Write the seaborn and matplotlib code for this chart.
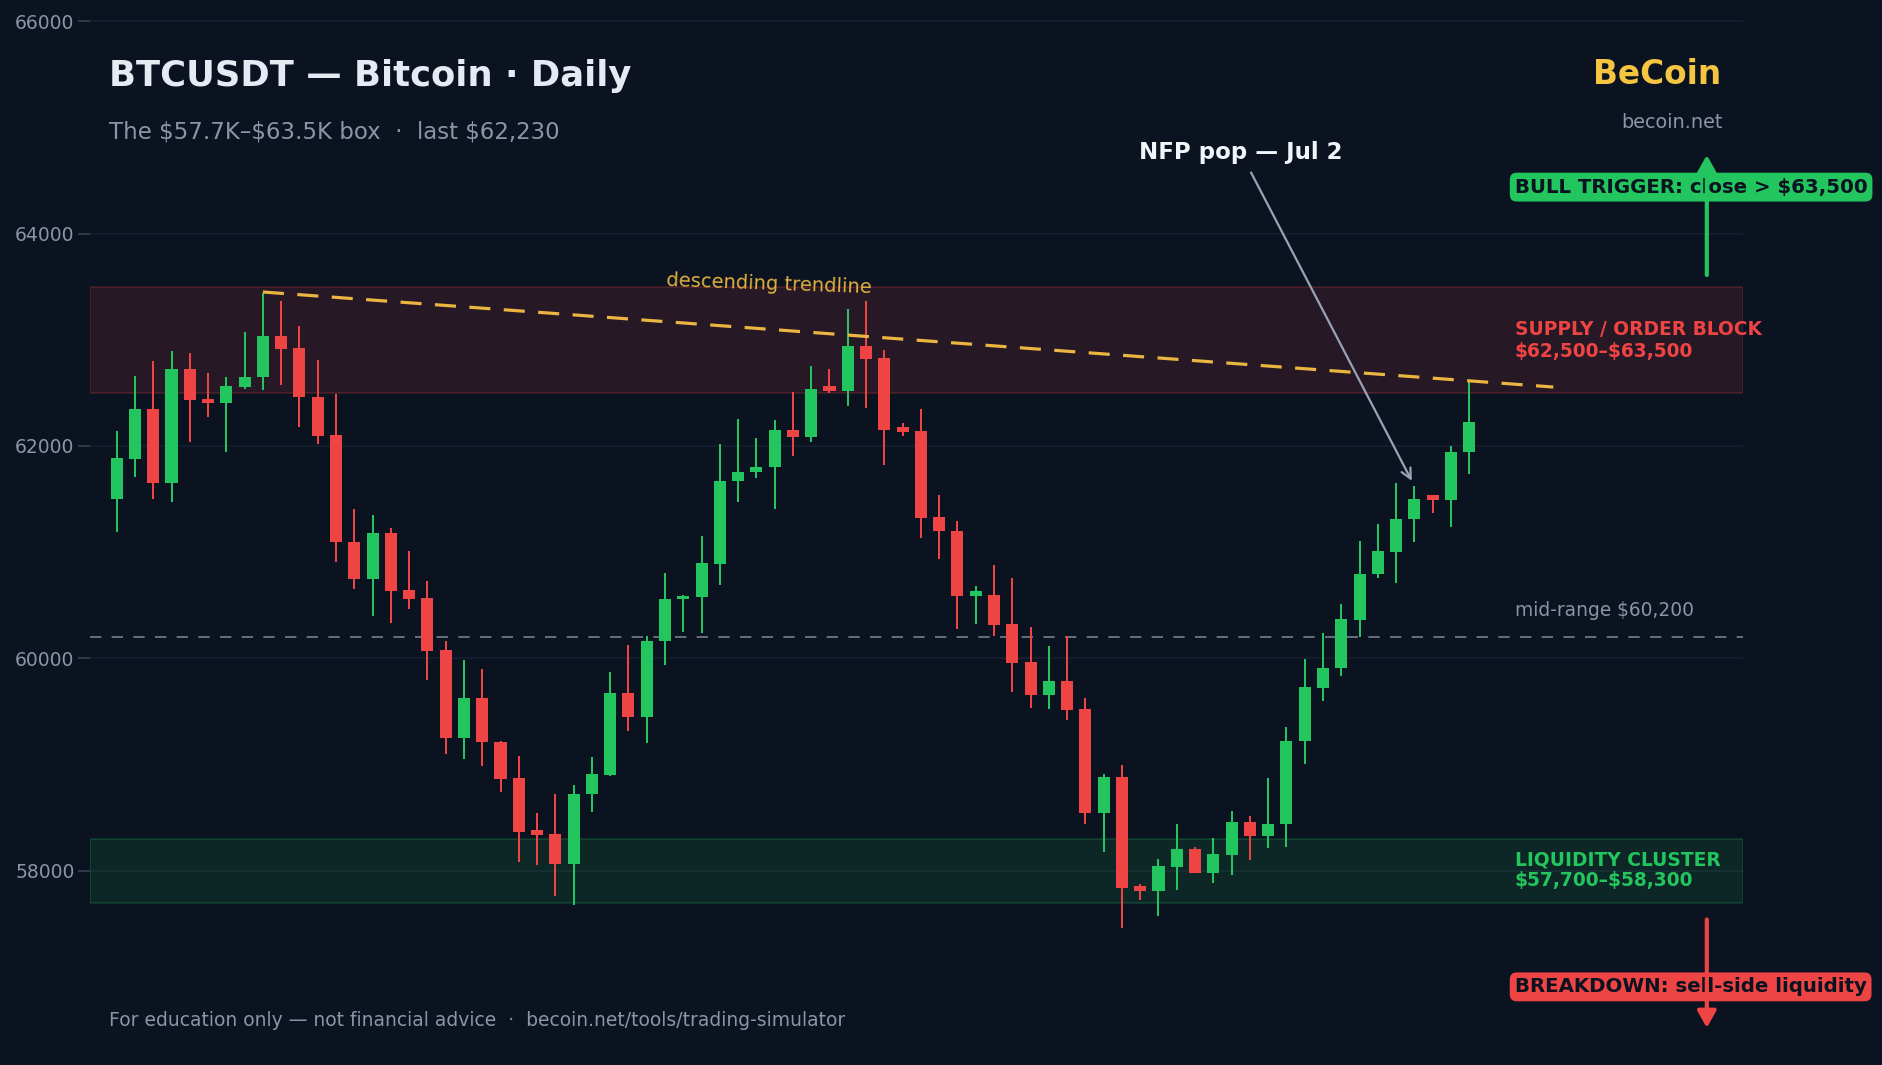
import numpy as np
import pandas as pd
import matplotlib
matplotlib.use("Agg")
import matplotlib.pyplot as plt
import seaborn as sns

# ---------------- data ----------------
opens = [61500, 61880, 62350, 61655, 62725, 62445, 62400, 62560, 62645, 63035,
         62920, 62465, 62100, 61100, 60750, 61180, 60640, 60565, 60075, 59250,
         59625, 59215, 58870, 58385, 58345, 58065, 58720, 58905, 59675, 59450,
         60160, 60555, 60580, 60890, 61670, 61755, 61800, 62150, 62080, 62565,
         62520, 62940, 62825, 62180, 62140, 61330, 61195, 60590, 60595, 60320,
         59965, 59650, 59785, 59520, 58545, 58880, 57855, 57810, 58035, 58205,
         57980, 58150, 58460, 58330, 58435, 59220, 59725, 59905, 60365, 60790,
         61005, 61310, 61535, 61495, 61945]
highs = [62140, 62660, 62800, 62895, 62875, 62690, 62650, 63075, 63440, 63365,
         63130, 62810, 62490, 61405, 61350, 61230, 61010, 60730, 60165, 59985,
         59900, 59220, 59080, 58545, 58720, 58805, 59070, 59870, 60125, 60210,
         60805, 60595, 61150, 62020, 62255, 62075, 62245, 62510, 62755, 62725,
         63290, 63365, 62905, 62215, 62350, 61540, 61295, 60680, 60880, 60755,
         60295, 60115, 60210, 59625, 58910, 58995, 57875, 58110, 58440, 58225,
         58305, 58560, 58515, 58875, 59355, 59995, 60240, 60510, 61105, 61265,
         61650, 61625, 61540, 62000, 62615]
lows = [61190, 61710, 61500, 61475, 62040, 62275, 61945, 62540, 62530, 62570,
        62175, 62020, 60910, 60655, 60400, 60335, 60465, 59795, 59100, 59050,
        58990, 58745, 58085, 58055, 57760, 57675, 58550, 58890, 59320, 59205,
        59940, 60250, 60240, 60695, 61475, 61700, 61410, 61905, 62040, 62495,
        62380, 62360, 61825, 62095, 61135, 60940, 60280, 60325, 60210, 59685,
        59535, 59525, 59420, 58440, 58175, 57460, 57725, 57575, 57820, 57980,
        57885, 57960, 58100, 58215, 58225, 59005, 59600, 59835, 60205, 60760,
        60705, 61100, 61370, 61240, 61740]
closes = [61885, 62350, 61655, 62725, 62430, 62400, 62565, 62650, 63035, 62915,
          62465, 62095, 61100, 60750, 61180, 60635, 60560, 60070, 59250, 59625,
          59215, 58865, 58360, 58340, 58065, 58720, 58910, 59675, 59450, 60165,
          60560, 60590, 60900, 61670, 61755, 61800, 62150, 62080, 62535, 62520,
          62940, 62820, 62155, 62135, 61325, 61195, 60590, 60635, 60315, 59960,
          59650, 59785, 59515, 58545, 58880, 57840, 57810, 58045, 58205, 57980,
          58155, 58460, 58330, 58440, 59220, 59730, 59910, 60370, 60795, 61010,
          61310, 61500, 61495, 61945, 62230]

supply_zone = [62500, 63500]
liquidity_zone = [57700, 58300]
mid_range = 60200
trend_x = [8, 78.6]
trend_y = [63450, 62555]
y_ticks = [58000, 60000, 62000, 64000, 66000]
nfp_index = 71
nfp_price = 61625

# ---------------- style ----------------
BG = "#0b1220"
GREEN = "#22c55e"
RED = "#ef4444"
GOLD = "#f5c542"
MUTED = "#8b95a7"
TITLE = "#e6ebf3"

sns.set_theme(style="dark", rc={
    "axes.facecolor": BG,
    "figure.facecolor": BG,
    "savefig.facecolor": BG,
    "axes.edgecolor": BG,
    "grid.color": "#172032",
})
plt.rcParams["font.family"] = ["DejaVu Sans"]

W, H = 1882, 1065
fig = plt.figure(figsize=(W / 100, H / 100), dpi=100)
ax = fig.add_axes([90 / W, 0, (1743 - 90) / W, 1])
ax.set_facecolor(BG)

df = pd.DataFrame({"open": opens, "high": highs, "low": lows, "close": closes})
df["x"] = np.arange(len(df))
df["up"] = df["close"] >= df["open"]
df["color"] = np.where(df["up"], GREEN, RED)
df["body_lo"] = df[["open", "close"]].min(axis=1)
df["body_h"] = (df["close"] - df["open"]).abs().clip(lower=20)

# zones
ax.axhspan(*supply_zone, facecolor=(0.937, 0.267, 0.267, 0.12),
           edgecolor=(0.937, 0.267, 0.267, 0.22), lw=1.2, zorder=1)
ax.axhspan(*liquidity_zone, facecolor=(0.133, 0.773, 0.369, 0.12),
           edgecolor=(0.133, 0.773, 0.369, 0.22), lw=1.2, zorder=1)

# mid-range
ax.axhline(mid_range, color="#6e7687", lw=1.3, linestyle=(0, (6.3, 5.7)), zorder=2)

# candles
ax.vlines(df["x"], df["low"], df["high"], colors=df["color"], lw=1.45, zorder=3)
ax.bar(df["x"], df["body_h"], bottom=df["body_lo"], width=0.66,
       color=df["color"], linewidth=0, zorder=3.5)

# trendline
sns.lineplot(x=trend_x, y=trend_y, ax=ax, color="#eab540", lw=2.3, zorder=5)
ax.lines[-1].set_linestyle((0, (6.6, 4.2)))

ax.text(35.7, 63520, "descending trendline", color="#e0b040", fontsize=14,
        ha="center", va="center", rotation=-2, zorder=6)

# axes cosmetics
ax.set_xlim(-1.46, 88.98)
ax.set_ylim(56170, 66200)
ax.set_yticks(y_ticks)
ax.set_yticklabels([str(v) for v in y_ticks])
ax.set_xticks([])
ax.yaxis.grid(True, color="#172032", lw=1.1)
ax.xaxis.grid(False)
ax.set_axisbelow(True)
for s in ax.spines.values():
    s.set_visible(False)
ax.tick_params(axis="y", left=True, length=8.6, width=1.1, color="#3b4454",
               labelcolor=MUTED, labelsize=13.5, pad=2.6)
ax.set_xlabel("")
ax.set_ylabel("")

# zone labels
LX = 76.49
lab = dict(ha="left", va="baseline", zorder=6, parse_math=False)
ax.text(LX, 63046, "SUPPLY / ORDER BLOCK", color=RED, fontsize=13.45,
        fontweight="bold", **lab)
ax.text(LX, 62841, "$62,500–$63,500", color=RED, fontsize=13.45,
        fontweight="bold", **lab)
ax.text(LX, 58053, "LIQUIDITY CLUSTER", color=GREEN, fontsize=13.45,
        fontweight="bold", **lab)
ax.text(LX, 57855, "$57,700–$58,300", color=GREEN, fontsize=13.45,
        fontweight="bold", **lab)
ax.text(LX, 60395, "mid-range $60,200", color=MUTED, fontsize=13.4, **lab)

# trigger boxes
ax.text(LX, 64386, "BULL TRIGGER: close > $63,500", color=BG, fontsize=14.2,
        fontweight="bold", **lab,
        bbox=dict(boxstyle="round,pad=0.25,rounding_size=0.35", fc=GREEN, ec="none"))
ax.text(LX, 56854, "BREAKDOWN: sell-side liquidity", color=BG, fontsize=14.2,
        fontweight="bold", **lab,
        bbox=dict(boxstyle="round,pad=0.25,rounding_size=0.35", fc=RED, ec="none"))

# trigger arrows
ax.annotate("", xy=(87, 64740), xytext=(87, 63610), zorder=7,
            arrowprops=dict(arrowstyle="-|>,head_width=0.28,head_length=0.5",
                            mutation_scale=20, color=GREEN, lw=3,
                            capstyle="round", joinstyle="round",
                            shrinkA=0, shrinkB=0))
ax.annotate("", xy=(87, 56520), xytext=(87, 57541), zorder=7,
            arrowprops=dict(arrowstyle="-|>,head_width=0.28,head_length=0.5",
                            mutation_scale=20, color=RED, lw=3,
                            capstyle="round", joinstyle="round",
                            shrinkA=0, shrinkB=0))

# NFP annotation
ax.annotate("NFP pop — Jul 2", xy=(nfp_index, nfp_price), xytext=(61.5, 64700),
            ha="center", va="baseline", fontsize=16.5, fontweight="bold",
            color="#f1f5f9", zorder=7,
            arrowprops=dict(arrowstyle="->", color="#9aa3b5", lw=1.6,
                            mutation_scale=18, shrinkA=4, shrinkB=4))

# header / footer
hdr = dict(va="baseline", parse_math=False)
fig.text(109 / W, 1 - 86 / H, "BTCUSDT — Bitcoin · Daily", color=TITLE,
         fontsize=25.5, fontweight="bold", ha="left", **hdr)
fig.text(109 / W, 1 - 138 / H, "The $57.7K–$63.5K box  ·  last $62,230",
         color=MUTED, fontsize=16.5, ha="left", **hdr)
fig.text(1721 / W, 1 - 84.3 / H, "BeCoin", color=GOLD, fontsize=23.6,
         fontweight="bold", ha="right", **hdr)
fig.text(1722.5 / W, 1 - 128.3 / H, "becoin.net", color=MUTED, fontsize=13.9,
         ha="right", **hdr)
fig.text(109 / W, 1 - 1025.5 / H,
         "For education only — not financial advice  ·  becoin.net/tools/trading-simulator",
         color=MUTED, fontsize=13.5, ha="left", **hdr)

fig.savefig("out.png", dpi=100, facecolor=BG)
